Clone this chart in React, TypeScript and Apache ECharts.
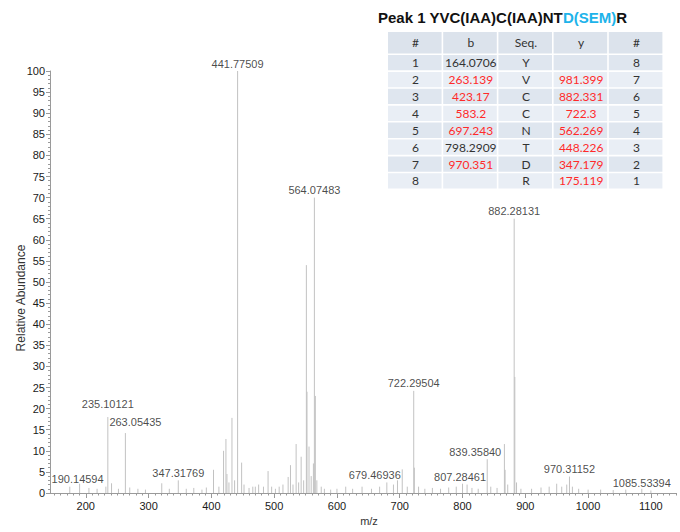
import React, { useEffect, useRef } from "react";
import * as echarts from "echarts";

// ---- spectrum data (m/z, relative abundance) ----
const peakMz = [
  174.5, 190.14594, 205, 218, 232, 235.10121, 241, 252, 263.05435, 270, 283, 295, 321, 333,
  347.31769, 360, 372, 385, 392, 403.4, 412, 419.4, 423.2, 424.8, 428, 432.8, 437, 441.77509,
  448.2, 452, 460, 466, 470, 475.3, 483, 490.3, 496, 502, 508, 514, 522.3, 526, 530, 535, 539,
  543, 547, 551.3, 552.3, 555.5, 559, 562.5, 564.07483, 565.6, 568, 575, 580, 590, 600, 614,
  625, 640, 655, 668, 679.46936, 690, 696.4, 704, 712, 722.29504, 723.3, 730, 740, 752, 765,
  778, 790, 800, 807.28461, 815, 825, 839.3584, 845, 855, 866.7, 867.8, 872, 882.28131, 883.3,
  886, 893, 910, 925, 938, 950, 958, 966, 970.31152, 975, 985, 1000, 1020, 1040, 1060,
  1085.53394, 1100,
];
const peakIntensity = [
  1.5, 2.2, 1.2, 1.0, 1.5, 18, 2.3, 1.0, 14.2, 1.3, 1.0, 0.8, 2.3, 1.0,
  3.0, 1.0, 1.2, 0.8, 1.3, 5.5, 1.5, 10, 12.8, 4.5, 2.5, 17.8, 3.0, 100,
  7.2, 2.0, 1.2, 1.5, 1.5, 2.0, 1.5, 5.2, 1.5, 1.0, 1.5, 2.0, 3.8, 6.6, 2.0, 11.6, 2.5,
  8.6, 3.0, 54, 24, 11, 4.0, 7.0, 70, 23, 3.0, 1.5, 1.0, 0.8, 1.0, 1.5,
  1.0, 1.5, 1.0, 1.5, 2.5, 2.0, 3.0, 5.6, 1.5, 24.2, 6.0, 1.5, 1.0, 1.2, 1.0,
  1.3, 1.5, 2.2, 2.0, 1.2, 1.0, 8.0, 1.5, 1.2, 11.6, 5.5, 2.0, 65, 27.5,
  2.5, 1.0, 1.0, 1.3, 1.5, 2.2, 1.5, 2.0, 3.9, 1.5, 1.0, 0.8, 0.8, 0.7, 0.8,
  1.0, 0.6,
];
const labeledMz = [
  190.14594, 235.10121, 263.05435, 347.31769, 441.77509, 564.07483, 679.46936,
  722.29504, 807.28461, 839.3584, 882.28131, 970.31152, 1085.53394,
];
const xTickValues = [200, 300, 400, 500, 600, 700, 800, 900, 1000, 1100];

// ---- fragment table ----
const tableHeaders = ["#", "b", "Seq.", "y", "#"];
const tableBIndex = ["1", "2", "3", "4", "5", "6", "7", "8"];
const tableB = ["164.0706", "263.139", "423.17", "583.2", "697.243", "798.2909", "970.351", ""];
const tableBMatched = [false, true, true, true, true, false, true, false];
const tableSeq = ["Y", "V", "C", "C", "N", "T", "D", "R"];
const tableY = ["", "981.399", "882.331", "722.3", "562.269", "448.226", "347.179", "175.119"];
const tableYMatched = [false, true, true, true, true, true, true, true];
const tableYIndex = ["8", "7", "6", "5", "4", "3", "2", "1"];

const titlePrefix = "Peak 1 YVC(IAA)C(IAA)NT";
const titleModified = "D(SEM)";
const titleSuffix = "R";

// label pixel nudges (styling only)
const labelOffsets: Record<string, number[]> = {
  "190.14594": [-2, 3],
  "235.10121": [0, -6],
  "263.05435": [10, -4],
  "679.46936": [-12, 0],
  "807.28461": [-7, 0],
  "839.35840": [-12, 0],
  "1085.53394": [0, 2],
};

function buildTable(): any[] {
  const els: any[] = [];
  const x0 = 388;
  const colW = 55.2;
  const gap = 1.6;
  const y0 = 32;
  const headH = 23;
  const rowH = 16.9;
  const font = "12px Lato, 'Open Sans', sans-serif";
  const black = "#333333";
  const red = "#ff2a2a";
  const cellText = (text: string, col: number, y: number, h: number, color: string) => ({
    type: "text",
    x: x0 + col * colW + colW / 2,
    y: y + h / 2,
    silent: true,
    z: 11,
    style: {
      text,
      font,
      fill: color,
      align: "center",
      verticalAlign: "middle",
      textAlign: "center",
      textVerticalAlign: "middle",
    },
  });
  for (let c = 0; c < 5; c++) {
    els.push({
      type: "rect",
      silent: true,
      z: 10,
      shape: { x: x0 + c * colW, y: y0, width: colW - gap, height: headH - gap },
      style: { fill: "#dce3ec" },
    });
    els.push(cellText(tableHeaders[c], c, y0, headH - gap, black));
  }
  for (let r = 0; r < tableSeq.length; r++) {
    const y = y0 + headH + r * rowH;
    const fill = r % 2 === 0 ? "#dfe6ef" : "#e9eef5";
    for (let c = 0; c < 5; c++) {
      els.push({
        type: "rect",
        silent: true,
        z: 10,
        shape: { x: x0 + c * colW, y, width: colW - gap, height: rowH - gap },
        style: { fill },
      });
    }
    els.push(cellText(tableBIndex[r], 0, y, rowH - gap, black));
    els.push(cellText(tableB[r], 1, y, rowH - gap, tableBMatched[r] ? red : black));
    els.push(cellText(tableSeq[r], 2, y, rowH - gap, black));
    els.push(cellText(tableY[r], 3, y, rowH - gap, tableYMatched[r] ? red : black));
    els.push(cellText(tableYIndex[r], 4, y, rowH - gap, black));
  }
  return els;
}

export default function App() {
  const ref = useRef<HTMLDivElement>(null);

  useEffect(() => {
    if (!ref.current) return;
    const chart = echarts.init(ref.current, null, { renderer: "svg" });

    const xMin = 143;
    const xMax = 1140;
    const minorTicks: number[] = [];
    for (let v = 150; v <= xMax; v += 10) minorTicks.push(v);

    const intensityOf = (mz: number) => peakIntensity[peakMz.indexOf(mz)];
    const labelData = labeledMz.map((mz) => {
      const text = mz.toFixed(5);
      return {
        value: [mz, intensityOf(mz)],
        label: { offset: labelOffsets[text] || [0, 0] },
      };
    });

    const axisColor = "#9a9a9a";
    const tickFont = "Arial, 'Liberation Sans', sans-serif";

    chart.setOption({
      animation: false,
      backgroundColor: "#ffffff",
      grid: { left: 50, right: 4, top: 71, bottom: 39, containLabel: false },
      xAxis: [
        {
          type: "value",
          min: xMin,
          max: xMax,
          axisLine: { show: true, onZero: false, lineStyle: { color: axisColor, width: 1 } },
          axisTick: { show: true, customValues: xTickValues, length: 5, lineStyle: { color: axisColor } },
          axisLabel: {
            show: true,
            customValues: xTickValues,
            color: "#1a1a1a",
            fontSize: 11,
            fontFamily: tickFont,
            margin: 7,
            formatter: (v: number) => String(v),
          },
          splitLine: { show: false },
        },
        {
          type: "value",
          min: xMin,
          max: xMax,
          position: "bottom",
          axisLine: { show: false },
          axisTick: { show: true, customValues: minorTicks, length: 2.5, lineStyle: { color: axisColor } },
          axisLabel: { show: false },
          splitLine: { show: false },
        },
      ],
      yAxis: {
        type: "value",
        min: 0,
        max: 100,
        interval: 5,
        axisLine: { show: true, lineStyle: { color: axisColor, width: 1 } },
        axisTick: { show: true, length: 4, lineStyle: { color: axisColor } },
        minorTick: { show: true, splitNumber: 5, length: 2, lineStyle: { color: axisColor } },
        axisLabel: { color: "#1a1a1a", fontSize: 11, fontFamily: tickFont, margin: 5, formatter: (v: number) => String(v) },
        splitLine: { show: false },
      },
      series: [
        {
          type: "custom",
          xAxisIndex: 0,
          yAxisIndex: 0,
          clip: true,
          data: peakMz.map((mz, i) => [mz, peakIntensity[i]]),
          encode: { x: 0, y: 1 },
          renderItem: (params: any, api: any) => {
            const p0 = api.coord([api.value(0), 0]);
            const p1 = api.coord([api.value(0), api.value(1)]);
            return {
              type: "line",
              shape: { x1: p0[0], y1: p0[1], x2: p1[0], y2: p1[1] },
              style: { stroke: "#c2c2c2", lineWidth: 1 },
            };
          },
          silent: true,
        },
        {
          type: "scatter",
          xAxisIndex: 0,
          yAxisIndex: 0,
          symbolSize: 0,
          silent: true,
          data: labelData,
          label: {
            show: true,
            position: "top",
            distance: 2,
            color: "#1a1a1a",
            fontSize: 11,
            fontFamily: tickFont,
            formatter: (p: any) => p.value[0].toFixed(5),
          },
        },
      ],
      graphic: [
        {
          type: "text",
          x: 21,
          y: 298,
          rotation: Math.PI / 2,
          silent: true,
          style: {
            text: "Relative Abundance",
            font: "12px Arial, 'Liberation Sans', sans-serif",
            fill: "#333",
            align: "center",
            verticalAlign: "middle",
            textAlign: "center",
            textVerticalAlign: "middle",
          },
        },
        {
          type: "text",
          x: 369,
          y: 521,
          silent: true,
          style: {
            text: "m/z",
            font: "11px Arial, 'Liberation Sans', sans-serif",
            fill: "#333",
            align: "center",
            verticalAlign: "middle",
            textAlign: "center",
            textVerticalAlign: "middle",
          },
        },
        {
          type: "text",
          x: 378,
          y: 17,
          silent: true,
          style: {
            text: `{a|${titlePrefix}}{b|${titleModified}}{a|${titleSuffix}}`,
            font: "bold 15px Arial, 'Liberation Sans', sans-serif",
            verticalAlign: "middle",
            textVerticalAlign: "middle",
            rich: {
              a: { fontSize: 15, fontWeight: "bold", fontFamily: "Arial, 'Liberation Sans', sans-serif", fill: "#111", color: "#111" },
              b: { fontSize: 15, fontWeight: "bold", fontFamily: "Arial, 'Liberation Sans', sans-serif", fill: "#1db3ea", color: "#1db3ea" },
            },
          },
        },
        ...buildTable(),
      ],
    });

    return () => chart.dispose();
  }, []);

  return <div ref={ref} style={{ width: 680, height: 532, position: "absolute", left: 0, top: 0 }} />;
}
